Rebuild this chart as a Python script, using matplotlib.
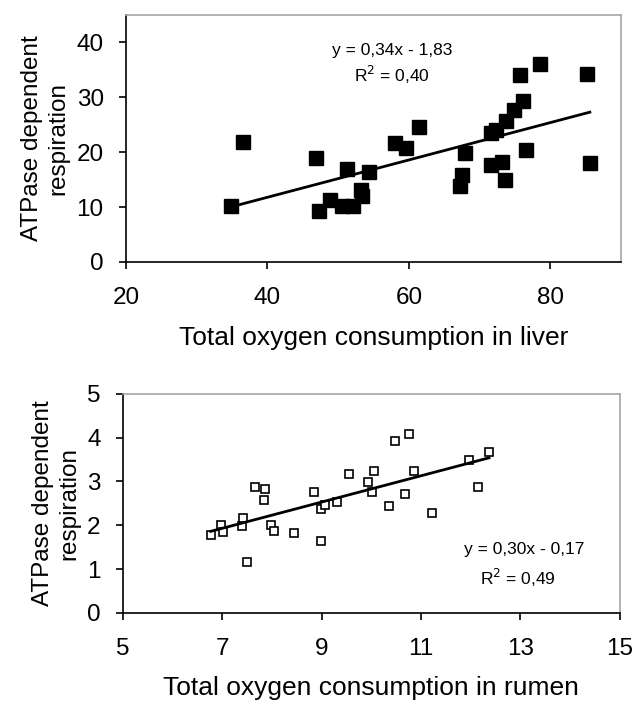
import numpy as np
import matplotlib
matplotlib.use("Agg")
import matplotlib.pyplot as plt

plt.rcParams['font.family'] = ['Liberation Sans', 'DejaVu Sans']

# liver data
liver_x = [34.9, 36.5, 46.9, 47.3, 48.8, 50.5, 52.1, 51.3, 53.3, 53.4, 54.4, 58.0,
           59.6, 61.5, 68.0, 67.5, 67.2, 71.6, 73.2, 73.6, 76.5, 71.6, 72.3, 73.7,
           74.9, 76.2, 75.7, 78.6, 85.2, 85.6]
liver_y = [10.2, 21.9, 18.9, 9.3, 11.3, 10.1, 10.1, 17.0, 13.1, 12.0, 16.3, 21.6,
           20.8, 24.6, 19.9, 15.9, 13.9, 17.6, 18.2, 14.9, 20.4, 23.4, 24.0, 25.7,
           27.6, 29.3, 34.1, 36.0, 34.3, 18.1]
liver_fit = (0.34, -1.83)

# rumen data
rumen_x = [6.77, 6.97, 7.01, 7.39, 7.42, 7.49, 7.66, 7.87, 7.84, 7.99, 8.05, 8.44,
           8.84, 8.99, 9.06, 8.99, 9.32, 9.55, 9.94, 10.01, 10.06, 10.35, 10.47,
           10.75, 10.68, 10.86, 11.22, 11.96, 12.14, 12.37]
rumen_y = [1.78, 2.01, 1.84, 1.99, 2.16, 1.17, 2.87, 2.83, 2.58, 2.00, 1.86, 1.82,
           2.77, 2.37, 2.47, 1.64, 2.54, 3.17, 2.98, 2.76, 3.24, 2.44, 3.93,
           4.08, 2.72, 3.24, 2.29, 3.49, 2.88, 3.67]
rumen_fit = (0.30, -0.17)

fig = plt.figure(figsize=(6.33, 7.06), dpi=100)
ax1 = fig.add_axes([0.199, 0.629, 0.782, 0.350])
ax2 = fig.add_axes([0.194, 0.132, 0.785, 0.310])


def style(ax):
    for s in ['top', 'right']:
        ax.spines[s].set_color('#a6a6a6')
        ax.spines[s].set_linewidth(1.2)
    for s in ['left', 'bottom']:
        ax.spines[s].set_color('black')
        ax.spines[s].set_linewidth(1.2)
    ax.tick_params(direction='out', length=5, width=1.2, labelsize=17.5)
    ax.tick_params(axis='x', pad=13)
    ax.tick_params(axis='y', pad=11)


# top panel
ax1.plot(liver_x, liver_y, 's', color='black', markersize=10, linestyle='none')
xs = np.array([min(liver_x), max(liver_x)])
ax1.plot(xs, liver_fit[0] * xs + liver_fit[1], color='black', linewidth=2)
ax1.set_xlim(20, 90)
ax1.set_ylim(0, 45)
ax1.set_xticks([20, 40, 60, 80])
ax1.set_yticks([0, 10, 20, 30, 40])
ax1.text(57.6, 38.5, 'y = 0,34x - 1,83', ha='center', va='center', fontsize=12.5)
ax1.text(57.6, 34.0, 'R$^2$ = 0,40', ha='center', va='center', fontsize=12.5)
ax1.set_xlabel('Total oxygen consumption in liver', fontsize=19, labelpad=12)
ax1.set_ylabel('ATPase dependent\nrespiration', fontsize=17.5, labelpad=5, linespacing=1.25)
style(ax1)

# bottom panel
ax2.plot(rumen_x, rumen_y, 's', markerfacecolor='white', markeredgecolor='black',
         markeredgewidth=1.2, markersize=6, linestyle='none')
xs = np.array([min(rumen_x), max(rumen_x)])
ax2.plot(xs, rumen_fit[0] * xs + rumen_fit[1], color='black', linewidth=2)
ax2.set_xlim(5, 15)
ax2.set_ylim(0, 5)
ax2.set_xticks([5, 7, 9, 11, 13, 15])
ax2.set_yticks([0, 1, 2, 3, 4, 5])
ax2.text(13.08, 1.44, 'y = 0,30x - 0,17', ha='center', va='center', fontsize=12.5)
ax2.text(12.95, 0.80, 'R$^2$ = 0,49', ha='center', va='center', fontsize=12.5)
ax2.set_xlabel('Total oxygen consumption in rumen', fontsize=19, labelpad=12)
ax2.set_ylabel('ATPase dependent\nrespiration', fontsize=17.5, labelpad=5, linespacing=1.25)
style(ax2)

fig.savefig('out.png', dpi=100)
